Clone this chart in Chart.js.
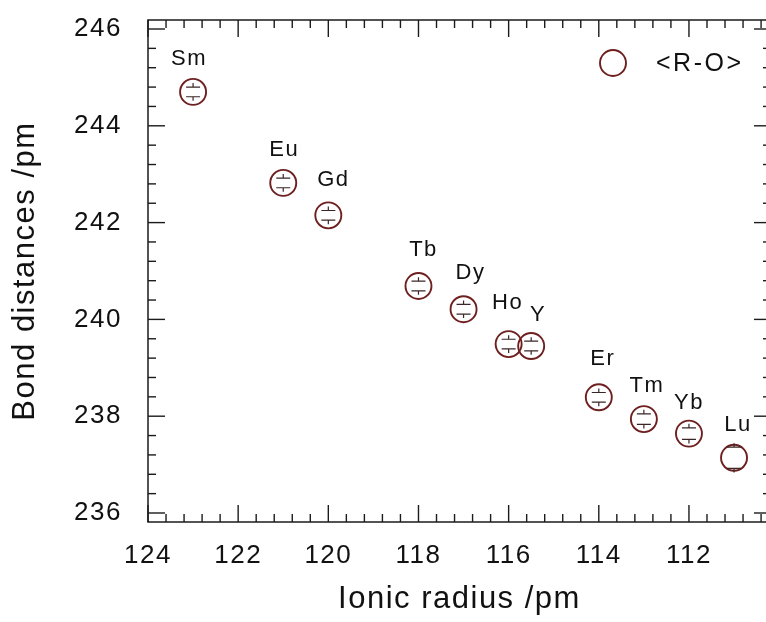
<!DOCTYPE html>
<html>
<head>
<meta charset="utf-8">
<title>Bond distances vs ionic radius</title>
<script src="https://cdn.jsdelivr.net/npm/chart.js@4.4.1/dist/chart.umd.min.js"></script>
<style>
  html, body { margin: 0; padding: 0; background: #ffffff; overflow: hidden; }
  #wrap { width: 780px; height: 622px; position: relative; }
  canvas { display: block; }
</style>
</head>
<body>
<div id="wrap"><canvas id="c" width="780" height="622"></canvas></div>
<script>
// Rare-earth elements and their ionic radii (pm)
const elements = ['Sm', 'Eu', 'Gd', 'Tb', 'Dy', 'Ho', 'Y', 'Er', 'Tm', 'Yb', 'Lu'];
const ionicRadius = [123, 121, 120, 118, 117, 116, 115.5, 114, 113, 112, 111];
// Mean R-O bond distance (pm) and its uncertainty
const bondDistance = [244.70, 242.82, 242.15, 240.69, 240.21, 239.49, 239.45, 238.39, 237.94, 237.64, 237.14];
const bondError = [0.10, 0.10, 0.10, 0.10, 0.10, 0.10, 0.10, 0.10, 0.11, 0.12, 0.22];
// Axis tick values
const xMajorTicks = [124, 122, 120, 118, 116, 114, 112];
const yMajorTicks = [236, 238, 240, 242, 244, 246];
const seriesLabel = '<R-O>';

const FONT = '"Liberation Sans", Arial, Helvetica, sans-serif';
const MARK = '#6e1f1f';
const INK = '#1b1b1b';

// Small nudges so element names sit clear of their markers
const labelShift = {
  Sm: [-4, 0], Eu: [1, 0], Gd: [5, -2], Tb: [5, -3], Dy: [7, -3],
  Ho: [-1, -8], Y: [7, 2], Er: [4, -5], Tm: [3, 0], Yb: [0, 2], Lu: [4, 0]
};

// Wider letter spacing for the axis text
const spacingPlugin = {
  id: 'spacing',
  beforeDraw(chart) { chart.ctx.letterSpacing = '1.5px'; },
  afterDraw(chart) { chart.ctx.letterSpacing = '0px'; }
};

// Inward ticks on all four sides plus the surrounding frame
const framePlugin = {
  id: 'frameTicks',
  afterDraw(chart) {
    const { ctx, chartArea: a, scales: { x, y } } = chart;
    ctx.save();
    ctx.strokeStyle = INK;
    ctx.lineWidth = 1.5;
    ctx.strokeRect(a.left, a.top, a.right - a.left, a.bottom - a.top);
    ctx.lineWidth = 1.4;
    const major = 17, minor = 8;
    const tick = (x1, y1, x2, y2) => { ctx.beginPath(); ctx.moveTo(x1, y1); ctx.lineTo(x2, y2); ctx.stroke(); };
    // x ticks (every 0.4 pm, major every 2 pm)
    for (let i = 0; ; i++) {
      const v = 124 - i * 0.4;
      if (v < x.min - 1e-6) break;
      const px = x.getPixelForValue(v);
      const isMajor = Math.abs(v / 2 - Math.round(v / 2)) < 1e-6;
      const len = isMajor ? major : minor;
      tick(px, a.bottom, px, a.bottom - len);
      tick(px, a.top, px, a.top + len);
    }
    // y ticks
    for (let i = 0; ; i++) {
      const v = 236 + i * 0.4;
      if (v > y.max + 1e-6) break;
      const py = y.getPixelForValue(v);
      const isMajor = Math.abs(v / 2 - Math.round(v / 2)) < 1e-6;
      const len = isMajor ? major : minor;
      tick(a.left, py, a.left + len, py);
      tick(a.right, py, a.right - len, py);
    }
    ctx.restore();
  }
};

// Error bars, element names and the in-plot legend
const annotatePlugin = {
  id: 'annotate',
  afterDatasetsDraw(chart) {
    const { ctx, scales: { y } } = chart;
    const meta = chart.getDatasetMeta(0);
    ctx.save();
    ctx.strokeStyle = '#3a2626';
    ctx.lineWidth = 1.2;
    meta.data.forEach((pt, i) => {
      const px = pt.x;
      const top = y.getPixelForValue(bondDistance[i] + bondError[i]);
      const bot = y.getPixelForValue(bondDistance[i] - bondError[i]);
      const cap = 7, stub = 4;
      ctx.beginPath();
      ctx.moveTo(px - cap, top); ctx.lineTo(px + cap, top);
      ctx.moveTo(px - cap, bot); ctx.lineTo(px + cap, bot);
      ctx.moveTo(px, top); ctx.lineTo(px, top - stub);
      ctx.moveTo(px, bot); ctx.lineTo(px, bot + stub);
      ctx.stroke();
    });
    ctx.fillStyle = '#111';
    ctx.font = '22px ' + FONT;
    ctx.letterSpacing = '1.5px';
    ctx.textAlign = 'center';
    ctx.textBaseline = 'middle';
    meta.data.forEach((pt, i) => {
      const s = labelShift[elements[i]] || [0, 0];
      ctx.fillText(elements[i], pt.x + s[0], pt.y - 33 + s[1]);
    });
    // legend entry
    const lx = 613, ly = 63;
    ctx.strokeStyle = MARK;
    ctx.lineWidth = 1.9;
    ctx.beginPath();
    ctx.arc(lx, ly, 13, 0, Math.PI * 2);
    ctx.stroke();
    ctx.font = '25px ' + FONT;
    ctx.letterSpacing = '2.5px';
    ctx.textAlign = 'left';
    ctx.fillText(chart.data.datasets[0].label, 656, ly + 1);
    ctx.restore();
  }
};

new Chart(document.getElementById('c'), {
  type: 'scatter',
  data: {
    datasets: [{
      label: seriesLabel,
      data: ionicRadius.map((r, i) => ({ x: r, y: bondDistance[i] })),
      pointStyle: 'circle',
      pointRadius: 13,
      pointHoverRadius: 13,
      pointBorderWidth: 1.9,
      borderColor: MARK,
      backgroundColor: 'rgba(0,0,0,0)'
    }]
  },
  options: {
    responsive: false,
    devicePixelRatio: 1,
    animation: false,
    events: [],
    layout: { autoPadding: false, padding: { left: 0, top: 20, right: 9, bottom: 0 } },
    plugins: { legend: { display: false }, tooltip: { enabled: false } },
    scales: {
      x: {
        type: 'linear',
        reverse: true,
        min: 110.18,
        max: 124,
        afterBuildTicks: s => { s.ticks = xMajorTicks.map(v => ({ value: v })); },
        afterFit: s => { s.height = 100; s.paddingLeft = 0; s.paddingRight = 0; },
        grid: { display: false, drawTicks: false },
        border: { display: false },
        ticks: { color: '#111', font: { family: FONT, size: 26 }, padding: 18, maxRotation: 0 },
        title: { display: true, text: 'Ionic radius /pm', color: '#111', font: { family: FONT, size: 31 }, padding: { top: 0, bottom: 4 } }
      },
      y: {
        type: 'linear',
        min: 235.814,
        max: 246.186,
        afterBuildTicks: s => { s.ticks = yMajorTicks.map(v => ({ value: v })); },
        afterFit: s => { s.width = 148; s.paddingTop = 0; s.paddingBottom = 0; },
        grid: { display: false, drawTicks: false },
        border: { display: false },
        ticks: { color: '#111', font: { family: FONT, size: 26 }, padding: 26 },
        title: { display: true, text: 'Bond distances /pm', color: '#111', font: { family: FONT, size: 31 }, padding: { top: 7, bottom: 0 } }
      }
    }
  },
  plugins: [spacingPlugin, framePlugin, annotatePlugin]
});
</script>
</body>
</html>
